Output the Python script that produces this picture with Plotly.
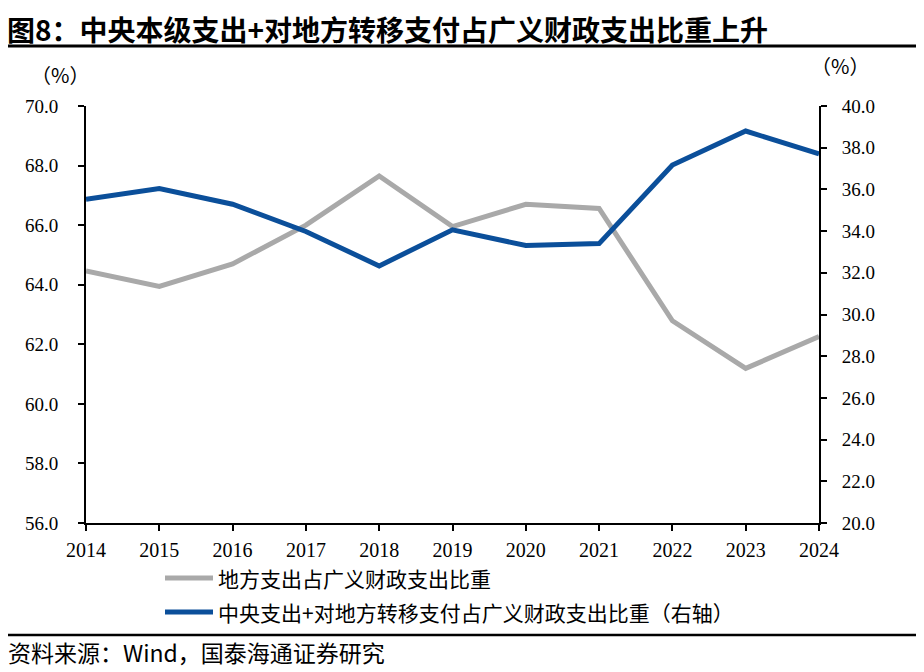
import plotly.graph_objects as go

years = [2014, 2015, 2016, 2017, 2018, 2019, 2020, 2021, 2022, 2023, 2024]
local_share = [64.46, 63.94, 64.70, 66.00, 67.65, 65.95, 66.70, 66.56, 62.79, 61.19, 62.26]
central_share = [35.53, 36.04, 35.29, 33.98, 32.33, 34.06, 33.31, 33.40, 37.17, 38.80, 37.70]

name_local = "地方支出占广义财政支出比重"
name_central = "中央支出+对地方转移支付占广义财政支出比重（右轴）"
title_text = "图8：中央本级支出+对地方转移支付占广义财政支出比重上升"
source_text = "资料来源：Wind，国泰海通证券研究"

left_ticks = [56, 58, 60, 62, 64, 66, 68, 70]
right_ticks = [20, 22, 24, 26, 28, 30, 32, 34, 36, 38, 40]

COLOR_LOCAL = "#a9a9a9"
COLOR_CENTRAL = "#0b4f9a"

# page offset (body margin) = 8px
OFF = 8
W, H = 924 - OFF, 672 - OFF
ML, MR, MT, MB = 86 - OFF, 105, 106 - OFF, 149
PW, PH = W - ML - MR, H - MT - MB

def px(x):
    return (x - OFF - ML) / PW

def py(y):
    return (OFF + MT + PH - y) / PH

FONT = "Liberation Serif, Noto Sans CJK SC, serif"
CJK = "Noto Sans CJK SC, Liberation Serif, sans-serif"

fig = go.Figure()
fig.add_trace(go.Scatter(x=years, y=local_share, name=name_local, mode="lines",
                         line=dict(color=COLOR_LOCAL, width=5)))
fig.add_trace(go.Scatter(x=years, y=central_share, name=name_central, mode="lines",
                         line=dict(color=COLOR_CENTRAL, width=5), yaxis="y2"))

axis_common = dict(showgrid=False, zeroline=False, showline=True, linecolor="black",
                   linewidth=2, ticks="outside", ticklen=6, tickwidth=2, tickcolor="black")

fig.update_layout(
    width=W, height=H,
    margin=dict(l=ML, r=MR, t=MT, b=MB),
    paper_bgcolor="white", plot_bgcolor="white",
    showlegend=False,
    xaxis=dict(range=[2014, 2024], tickmode="array", tickvals=years,
               ticktext=[str(y) for y in years], ticklabelstandoff=2,
               tickfont=dict(family=FONT, size=20, color="black"), **axis_common),
    yaxis=dict(range=[56, 70], tickmode="array", tickvals=left_ticks,
               ticktext=[f"{v:.1f}" for v in left_ticks], ticklabelstandoff=16,
               tickfont=dict(family=FONT, size=19, color="black"), **axis_common),
    yaxis2=dict(range=[20, 40], tickmode="array", tickvals=right_ticks,
                ticktext=[f"{v:.1f}" for v in right_ticks], overlaying="y", side="right",
                ticklabelstandoff=11,
                tickfont=dict(family=FONT, size=19, color="black"), **axis_common),
)

# manual legend
for name, color, yy in [(name_local, COLOR_LOCAL, 578), (name_central, COLOR_CENTRAL, 612)]:
    fig.add_shape(type="line", xref="paper", yref="paper", x0=px(165), x1=px(213),
                  y0=py(yy), y1=py(yy), line=dict(color=color, width=5))
    fig.add_annotation(text=name, x=px(216), y=py(yy), xref="paper", yref="paper",
                       xanchor="left", yanchor="middle", showarrow=False,
                       font=dict(family=CJK, size=21, color="black"))

fig.add_annotation(text=f"<b>{title_text}</b>", x=px(6), y=py(OFF), xref="paper", yref="paper",
                   xanchor="left", yanchor="top", showarrow=False, borderpad=0,
                   font=dict(family=CJK, size=28, color="black"))
fig.add_annotation(text="（%）", x=px(60), y=py(74), xref="paper", yref="paper",
                   xanchor="center", yanchor="middle", showarrow=False,
                   font=dict(family=CJK, size=20, color="black"))
fig.add_annotation(text="（%）", x=px(840), y=py(66), xref="paper", yref="paper",
                   xanchor="center", yanchor="middle", showarrow=False,
                   font=dict(family=CJK, size=20, color="black"))
fig.add_annotation(text=source_text, x=px(6), y=py(652), xref="paper", yref="paper",
                   xanchor="left", yanchor="middle", showarrow=False,
                   font=dict(family=CJK, size=23, color="black"))

fig.add_shape(type="line", xref="paper", yref="paper", x0=px(5), x1=px(916),
              y0=py(46), y1=py(46), line=dict(color="black", width=3))
fig.add_shape(type="line", xref="paper", yref="paper", x0=px(5), x1=px(916),
              y0=py(635), y1=py(635), line=dict(color="black", width=2.5))

fig.write_html("out.html")
